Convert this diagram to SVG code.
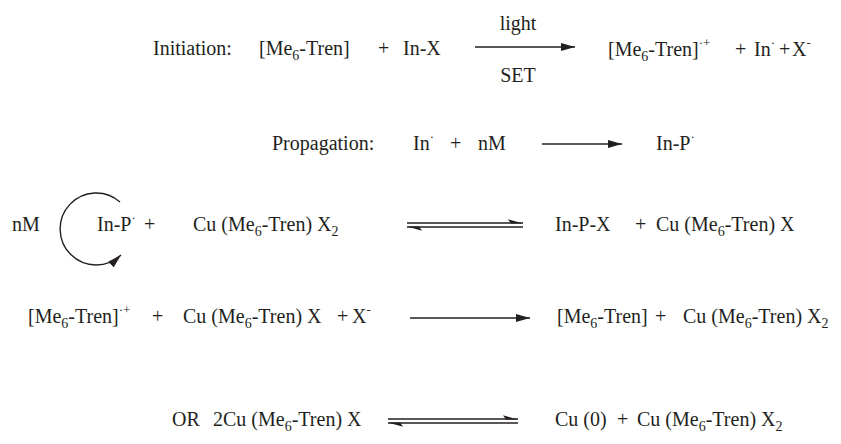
<svg xmlns="http://www.w3.org/2000/svg" width="841" height="444" viewBox="0 0 841 444">
<style>
text{font-family:"Liberation Serif","Times New Roman",serif;font-size:20px;fill:#231f20}
.sub{font-size:14px}
.sup{font-size:13px}
.c{text-anchor:middle}
line,path.l{stroke:#231f20;stroke-width:1.4;fill:none}
.h{fill:#231f20;stroke:none}
</style>
<defs>
<marker id="ah" markerUnits="userSpaceOnUse" markerWidth="16" markerHeight="10" refX="14" refY="4" orient="auto">
<path d="M0,0 L14,4 L0,8 Z" fill="#231f20"/>
</marker>
</defs>
<rect width="841" height="444" fill="#fff"/>

<g id="initiation">
<text x="153" y="55">Initiation:</text>
<text x="259" y="55">[Me<tspan class="sub" dy="5">6</tspan><tspan dy="-5">-Tren]</tspan></text>
<text x="378" y="55">+</text>
<text x="403" y="55">In-X</text>
<text class="c" x="518" y="30">light</text>
<text class="c" x="518" y="82">SET</text>
<text x="608" y="56">[Me<tspan class="sub" dy="5">6</tspan><tspan dy="-5">-Tren]</tspan><tspan class="sup" dy="-9">·+</tspan></text>
<text x="735" y="56">+</text>
<text x="754" y="56">In<tspan class="sup" dy="-9">·</tspan></text>
<text x="779" y="56">+</text>
<text x="792" y="56">X<tspan class="sup" dy="-9">-</tspan></text>
</g>

<g id="propagation">
<text x="272" y="150">Propagation:</text>
<text x="413" y="150">In<tspan class="sup" dy="-9">·</tspan></text>
<text x="450" y="150">+</text>
<text x="478" y="150">nM</text>
<text x="656" y="150">In-P<tspan class="sup" dy="-9">·</tspan></text>
</g>

<g id="deactivation">
<text x="12" y="231">nM</text>
<text x="97" y="231">In-P<tspan class="sup" dy="-9">·</tspan></text>
<text x="144" y="231">+</text>
<text x="193" y="231">Cu (Me<tspan class="sub" dy="5">6</tspan><tspan dy="-5">-Tren) X</tspan><tspan class="sub" dy="5">2</tspan></text>
<text x="555" y="231">In-P-X</text>
<text x="635" y="231">+</text>
<text x="656" y="231">Cu (Me<tspan class="sub" dy="5">6</tspan><tspan dy="-5">-Tren) X</tspan></text>
</g>

<g id="regeneration">
<text x="28" y="323">[Me<tspan class="sub" dy="5">6</tspan><tspan dy="-5">-Tren]</tspan><tspan class="sup" dy="-9">·+</tspan></text>
<text x="152" y="323">+</text>
<text x="183" y="323">Cu (Me<tspan class="sub" dy="5">6</tspan><tspan dy="-5">-Tren) X</tspan></text>
<text x="337" y="323">+</text>
<text x="352" y="323">X<tspan class="sup" dy="-9">-</tspan></text>
<text x="557" y="323">[Me<tspan class="sub" dy="5">6</tspan><tspan dy="-5">-Tren]</tspan></text>
<text x="655" y="323">+</text>
<text x="683" y="323">Cu (Me<tspan class="sub" dy="5">6</tspan><tspan dy="-5">-Tren) X</tspan><tspan class="sub" dy="5">2</tspan></text>
</g>

<g id="disproportionation">
<text x="172" y="426">OR</text>
<text x="213" y="426">2Cu (Me<tspan class="sub" dy="5">6</tspan><tspan dy="-5">-Tren) X</tspan></text>
<text x="555" y="426">Cu (0)</text>
<text x="617" y="426">+</text>
<text x="637" y="426">Cu (Me<tspan class="sub" dy="5">6</tspan><tspan dy="-5">-Tren) X</tspan><tspan class="sub" dy="5">2</tspan></text>
</g>

<g id="connectors">
<line x1="475" y1="47" x2="575" y2="47" marker-end="url(#ah)"/>
<line x1="542" y1="144" x2="622" y2="144" marker-end="url(#ah)"/>
<path class="l" d="M120,202 A36,36 0 1 0 121,255" marker-end="url(#ah)"/>
<line x1="407" y1="223" x2="523" y2="223"/>
<polygon class="h" points="523,223.6 508,219.2 511,223.6"/>
<line x1="407" y1="227" x2="523" y2="227"/>
<polygon class="h" points="407,226.4 422,230.8 419,226.4"/>
<line x1="410" y1="318" x2="530" y2="318" marker-end="url(#ah)"/>
<line x1="388" y1="419" x2="518" y2="419"/>
<polygon class="h" points="518,419.6 503,415.2 506,419.6"/>
<line x1="388" y1="423" x2="518" y2="423"/>
<polygon class="h" points="388,422.4 403,426.8 400,422.4"/>
</g>
</svg>
